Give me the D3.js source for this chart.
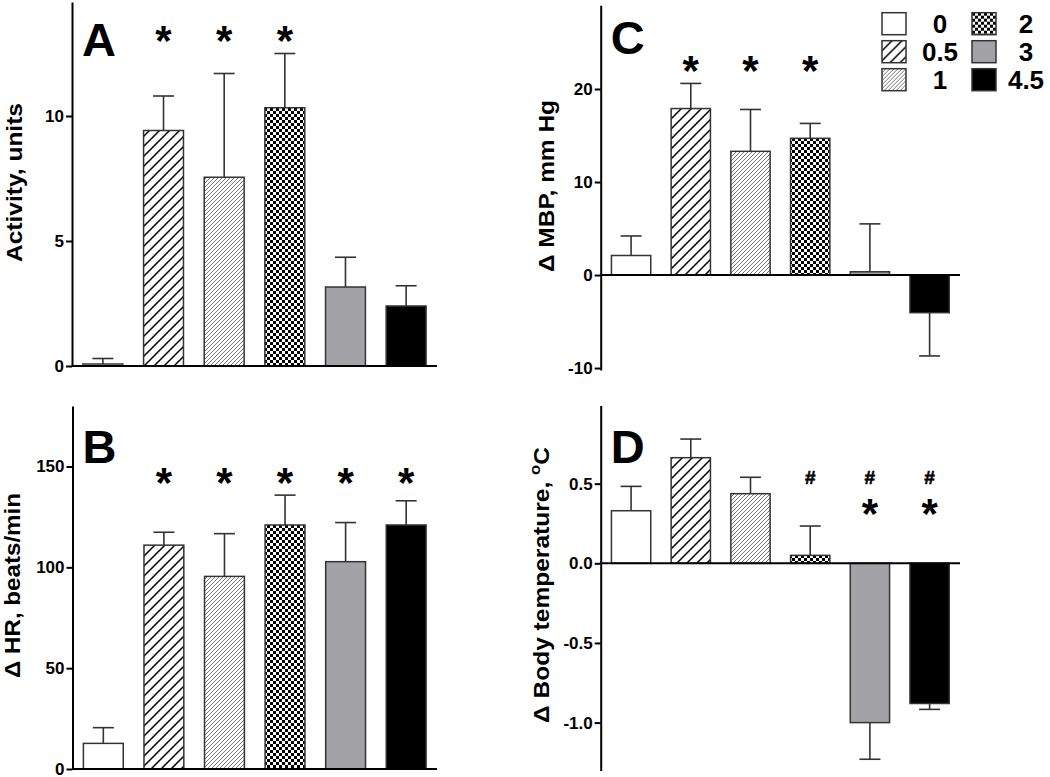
<!DOCTYPE html>
<html>
<head>
<meta charset="utf-8">
<script src="https://cdn.jsdelivr.net/npm/d3@7"></script>
<style>
  body { margin: 0; background: #fff; }
  svg { display: block; }
  text { font-family: "Liberation Sans", Arial, sans-serif; font-weight: bold; fill: #000; }
</style>
</head>
<body>
<svg width="1050" height="777"></svg>
<script>
"use strict";

// doses (legend) and the pattern used for each
const doses = ["0", "0.5", "1", "2", "3", "4.5"];
const fills = ["#ffffff", "url(#hatchWide)", "url(#hatchFine)", "url(#checker)", "#a3a3a7", "#000000"];

// A - activity
const activity = [0.08, 9.42, 7.55, 10.33, 3.16, 2.4];
const activityErr = [0.22, 1.38, 4.15, 2.17, 1.19, 0.81];
const activityStars = [1, 2, 3];

// B - heart rate
const heartRate = [12.7, 111, 95.5, 121, 102.8, 121];
const heartRateErr = [7.8, 6.4, 21.2, 14.8, 19.4, 12];
const heartRateStars = [1, 2, 3, 4, 5];

// C - mean blood pressure
const mbp = [2.1, 17.9, 13.3, 14.7, 0.35, -4.05];
const mbpErr = [2.1, 2.7, 4.5, 1.6, 5.15, 4.65];
const mbpStars = [1, 2, 3];

// D - body temperature
const bodyTemp = [0.33, 0.663, 0.437, 0.05, -1.0, -0.88];
const bodyTempErr = [0.153, 0.117, 0.103, 0.184, 0.23, 0.037];
const bodyTempStars = [4, 5];
const bodyTempHash = [3, 4, 5];

const svg = d3.select("svg");

/////////////////////////////////////////////////////
// patterns
/////////////////////////////////////////////////////
const defs = svg.append("defs");

const pw = defs.append("pattern").attr("id", "hatchWide")
  .attr("patternUnits", "userSpaceOnUse").attr("width", 10).attr("height", 10);
pw.append("rect").attr("width", 10).attr("height", 10).attr("fill", "#fff");
pw.append("path").attr("d", "M0,10L10,0M-2.5,2.5L2.5,-2.5M7.5,12.5L12.5,7.5")
  .attr("stroke", "#000").attr("stroke-width", 1.5);

const pf = defs.append("pattern").attr("id", "hatchFine")
  .attr("patternUnits", "userSpaceOnUse").attr("width", 4).attr("height", 4);
pf.append("rect").attr("width", 4).attr("height", 4).attr("fill", "#fff");
pf.append("path").attr("d", "M0,4L4,0M-1,1L1,-1M3,5L5,3")
  .attr("stroke", "#777").attr("stroke-width", 1);

const pc = defs.append("pattern").attr("id", "checker")
  .attr("patternUnits", "userSpaceOnUse").attr("width", 6).attr("height", 6);
pc.append("rect").attr("width", 6).attr("height", 6).attr("fill", "#fff");
pc.append("rect").attr("width", 3).attr("height", 3).attr("fill", "#000");
pc.append("rect").attr("x", 3).attr("y", 3).attr("width", 3).attr("height", 3).attr("fill", "#000");

/////////////////////////////////////////////////////
// one panel
/////////////////////////////////////////////////////
function panel(cfg) {
  const g = svg.append("g");

  const x = d3.scaleBand()
    .domain(doses)
    .range([cfg.left, cfg.right])
    .paddingInner(0.342)
    .paddingOuter(0.18);

  const y = d3.scaleLinear().domain(cfg.domain).range([cfg.bottom, cfg.top]);

  // bars
  g.selectAll("rect.bar")
    .data(cfg.values)
    .enter()
    .append("rect")
    .attr("class", "bar")
    .attr("x", (d, i) => x(doses[i]))
    .attr("width", x.bandwidth())
    .attr("y", (d) => y(Math.max(0, d)))
    .attr("height", (d) => Math.abs(y(d) - y(0)))
    .attr("fill", (d, i) => fills[i])
    .attr("stroke", "#333")
    .attr("stroke-width", 1.5);

  // error bars (only away from zero)
  const cx = (i) => x(doses[i]) + x.bandwidth() / 2;
  const tip = (i) => {
    const v = cfg.values[i];
    return v >= 0 ? v + cfg.errors[i] : v - cfg.errors[i];
  };
  cfg.values.forEach((v, i) => {
    g.append("line")
      .attr("x1", cx(i)).attr("x2", cx(i))
      .attr("y1", y(v)).attr("y2", y(tip(i)))
      .attr("stroke", "#333").attr("stroke-width", 1.6);
    g.append("line")
      .attr("x1", cx(i) - 10.5).attr("x2", cx(i) + 10.5)
      .attr("y1", y(tip(i))).attr("y2", y(tip(i)))
      .attr("stroke", "#333").attr("stroke-width", 1.6);
  });

  // y axis
  const yAxis = d3.axisLeft(y)
    .tickValues(cfg.ticks)
    .tickFormat(cfg.format)
    .tickSizeInner(6)
    .tickSizeOuter(0)
    .tickPadding(2);
  const ya = g.append("g").attr("transform", `translate(${cfg.left},0)`).call(yAxis);
  ya.select(".domain").attr("stroke", "#000").attr("stroke-width", 2);
  ya.selectAll(".tick line").attr("stroke", "#000").attr("stroke-width", 2);
  ya.selectAll(".tick text")
    .attr("font-family", "Liberation Sans, Arial, sans-serif")
    .attr("font-weight", "bold")
    .attr("font-size", 17)
    .attr("fill", "#000");

  // x baseline at zero
  g.append("line")
    .attr("x1", cfg.left).attr("x2", cfg.right)
    .attr("y1", y(0)).attr("y2", y(0))
    .attr("stroke", "#000").attr("stroke-width", 2);

  // y label
  const lab = g.append("text")
    .attr("transform", `translate(${cfg.labelX},${cfg.labelY}) rotate(-90)`)
    .attr("text-anchor", "middle")
    .attr("font-size", 22)
    .attr("textLength", cfg.labelLen)
    .attr("lengthAdjust", "spacingAndGlyphs");
  lab.append("tspan").text(cfg.label);
  if (cfg.labelSup) {
    lab.append("tspan").attr("dy", -9).attr("font-size", 15).text(cfg.labelSup[0]);
    lab.append("tspan").attr("dy", 9).text(cfg.labelSup[1]);
  }

  // panel letter
  g.append("text")
    .attr("x", cfg.left + 10)
    .attr("y", cfg.letterY)
    .attr("font-size", 47)
    .text(cfg.letter);

  // significance marks
  g.selectAll("text.star")
    .data(cfg.stars)
    .enter()
    .append("text")
    .attr("class", "star")
    .attr("x", (i) => cx(i))
    .attr("y", cfg.starY + 23)
    .attr("text-anchor", "middle")
    .attr("font-size", 42)
    .text("*");

  if (cfg.hash) {
    g.selectAll("text.hash")
      .data(cfg.hash)
      .enter()
      .append("text")
      .attr("class", "hash")
      .attr("x", (i) => cx(i))
      .attr("y", cfg.hashY + 7)
      .attr("text-anchor", "middle")
      .attr("font-size", 19)
      .attr("stroke", "#000")
      .attr("stroke-width", 0.6)
      .text("#");
  }
}

panel({
  letter: "A", values: activity, errors: activityErr, stars: activityStars,
  left: 72, right: 437, top: 2, bottom: 366, domain: [0, 14.56],
  ticks: [0, 5, 10], format: d3.format("d"),
  label: "Activity, units", labelX: 22, labelY: 182.5, labelLen: 159,
  letterY: 55.7, starY: 32
});

panel({
  letter: "B", values: heartRate, errors: heartRateErr, stars: heartRateStars,
  left: 72.5, right: 437, top: 406, bottom: 769, domain: [0, 180],
  ticks: [0, 50, 100, 150], format: d3.format("d"),
  label: "\u0394 HR, beats/min", labelX: 20, labelY: 585.5, labelLen: 185,
  letterY: 463, starY: 474
});

panel({
  letter: "C", values: mbp, errors: mbpErr, stars: mbpStars,
  left: 600.7, right: 960, top: 5.3, bottom: 369.9, domain: [-10.2, 29],
  ticks: [-10, 0, 10, 20], format: (d) => String(d),
  label: "\u0394 MBP, mm Hg", labelX: 554, labelY: 186, labelLen: 172,
  letterY: 54, starY: 61.7
});

panel({
  letter: "D", values: bodyTemp, errors: bodyTempErr, stars: bodyTempStars,
  hash: bodyTempHash, hashY: 476.7,
  left: 600.7, right: 960, top: 405.6, bottom: 770.4, domain: [-1.3, 0.99],
  ticks: [-1.0, -0.5, 0.0, 0.5], format: (d) => d.toFixed(1),
  label: "\u0394 Body temperature, ", labelSup: ["o", "C"],
  labelX: 549, labelY: 585, labelLen: 276,
  letterY: 462.7, starY: 505
});

/////////////////////////////////////////////////////
// legend
/////////////////////////////////////////////////////
const legend = svg.append("g");
const legendItems = legend.selectAll("g")
  .data(doses)
  .enter()
  .append("g")
  .attr("transform", (d, i) => `translate(${i < 3 ? 882 : 972},${12.7 + (i % 3) * 28})`);
legendItems.append("rect")
  .attr("width", 24).attr("height", 22)
  .attr("fill", (d, i) => fills[i])
  .attr("stroke", "#333").attr("stroke-width", 1.5);
legendItems.append("text")
  .attr("x", (d, i) => (i < 3 ? 58 : 54))
  .attr("y", 20.6)
  .attr("text-anchor", "middle")
  .attr("font-size", 26)
  .text((d) => d);
</script>
</body>
</html>
